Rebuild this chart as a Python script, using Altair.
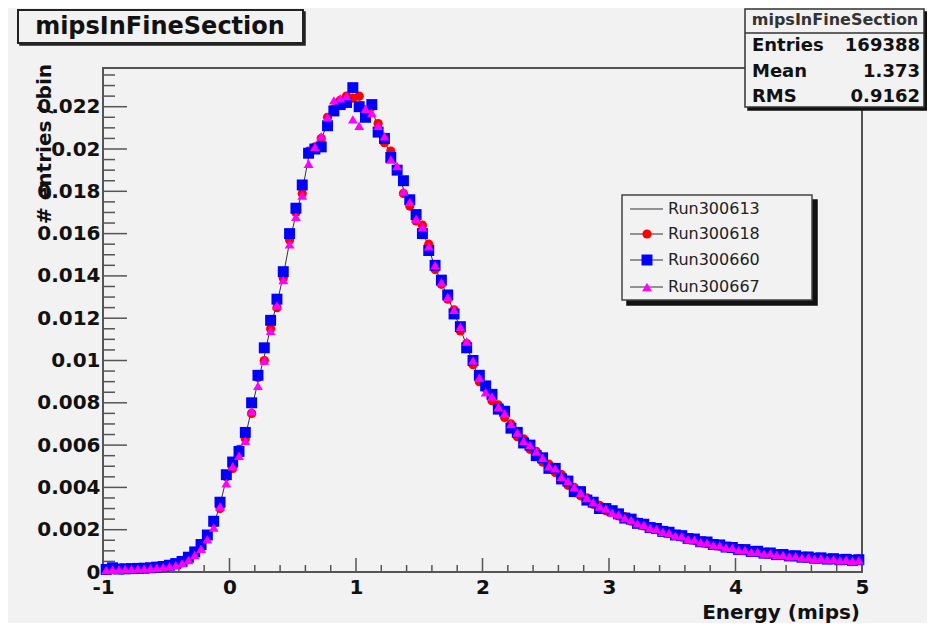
import altair as alt
import pandas as pd

# ---------------- data ----------------
bin_centers = [round(-0.975 + 0.05 * i, 3) for i in range(120)]

run300613 = [
    0.00010, 0.00012, 0.00013, 0.00014, 0.00015, 0.00016, 0.00017, 0.00019, 0.00021, 0.00024,
    0.00028, 0.00034, 0.00045, 0.00060, 0.00085, 0.00120, 0.00160, 0.00220, 0.00320, 0.00440,
    0.00510, 0.00560, 0.00640, 0.00770, 0.00900, 0.01020, 0.01160, 0.01270, 0.01400, 0.01560,
    0.01690, 0.01800, 0.01960, 0.02000, 0.02040, 0.02130, 0.02200, 0.02220, 0.02240, 0.02260,
    0.02230, 0.02200, 0.02190, 0.02100, 0.02040, 0.01970, 0.01910, 0.01810, 0.01740, 0.01680,
    0.01620, 0.01530, 0.01440, 0.01370, 0.01300, 0.01230, 0.01150, 0.01070, 0.00990, 0.00910,
    0.00860, 0.00820, 0.00780, 0.00740, 0.00690, 0.00650, 0.00620, 0.00590, 0.00560, 0.00530,
    0.00505, 0.00480, 0.00450, 0.00420, 0.00395, 0.00370, 0.00345, 0.00325, 0.00310, 0.00295,
    0.00285, 0.00270, 0.00258, 0.00245, 0.00232, 0.00222, 0.00212, 0.00203, 0.00194, 0.00185,
    0.00176, 0.00168, 0.00160, 0.00152, 0.00145, 0.00138, 0.00131, 0.00125, 0.00119, 0.00113,
    0.00108, 0.00104, 0.00099, 0.00095, 0.00091, 0.00087, 0.00083, 0.00080, 0.00077, 0.00074,
    0.00071, 0.00068, 0.00066, 0.00064, 0.00062, 0.00060, 0.00058, 0.00057, 0.00056, 0.00055,
]

run300618 = [
    0.00008, 0.00011, 0.00014, 0.00013, 0.00016, 0.00015, 0.00018, 0.00020, 0.00022, 0.00026,
    0.00030, 0.00036, 0.00043, 0.00062, 0.00088, 0.00115, 0.00170, 0.00230, 0.00300, 0.00450,
    0.00490, 0.00580, 0.00630, 0.00750, 0.00920, 0.01000, 0.01150, 0.01250, 0.01390, 0.01570,
    0.01700, 0.01790, 0.01990, 0.02010, 0.02050, 0.02150, 0.02190, 0.02230, 0.02250, 0.02240,
    0.02250, 0.02180, 0.02200, 0.02120, 0.02030, 0.01990, 0.01900, 0.01790, 0.01730, 0.01660,
    0.01640, 0.01550, 0.01430, 0.01360, 0.01290, 0.01240, 0.01140, 0.01080, 0.00980, 0.00900,
    0.00870, 0.00810, 0.00790, 0.00730, 0.00700, 0.00640, 0.00630, 0.00580, 0.00570, 0.00520,
    0.00510, 0.00470, 0.00460, 0.00410, 0.00400, 0.00360, 0.00350, 0.00320, 0.00315, 0.00290,
    0.00290, 0.00265, 0.00262, 0.00240, 0.00236, 0.00218, 0.00215, 0.00200, 0.00197, 0.00182,
    0.00178, 0.00165, 0.00163, 0.00150, 0.00147, 0.00135, 0.00133, 0.00122, 0.00121, 0.00110,
    0.00110, 0.00101, 0.00100, 0.00092, 0.00093, 0.00085, 0.00085, 0.00078, 0.00079, 0.00072,
    0.00073, 0.00066, 0.00068, 0.00062, 0.00063, 0.00059, 0.00060, 0.00055, 0.00057, 0.00062,
]

run300660 = [
    0.00012, 0.00020, 0.00014, 0.00015, 0.00016, 0.00017, 0.00018, 0.00020, 0.00023, 0.00026,
    0.00032, 0.00040, 0.00050, 0.00070, 0.00095, 0.00130, 0.00175, 0.00240, 0.00330, 0.00460,
    0.00520, 0.00570, 0.00660, 0.00800, 0.00930, 0.01060, 0.01190, 0.01290, 0.01420, 0.01600,
    0.01720, 0.01830, 0.01980, 0.02000, 0.02010, 0.02110, 0.02180, 0.02210, 0.02220, 0.02290,
    0.02200, 0.02150, 0.02210, 0.02080, 0.02050, 0.01960, 0.01900, 0.01850, 0.01760, 0.01690,
    0.01600, 0.01520, 0.01450, 0.01380, 0.01310, 0.01220, 0.01160, 0.01060, 0.01000, 0.00930,
    0.00880, 0.00840, 0.00770, 0.00760, 0.00680, 0.00660, 0.00610, 0.00600, 0.00550, 0.00540,
    0.00490, 0.00490, 0.00440, 0.00430, 0.00380, 0.00380, 0.00340, 0.00330, 0.00300, 0.00300,
    0.00290, 0.00275, 0.00255, 0.00250, 0.00230, 0.00226, 0.00210, 0.00206, 0.00192, 0.00188,
    0.00175, 0.00172, 0.00158, 0.00156, 0.00143, 0.00142, 0.00130, 0.00128, 0.00118, 0.00116,
    0.00106, 0.00106, 0.00097, 0.00098, 0.00089, 0.00090, 0.00082, 0.00083, 0.00076, 0.00077,
    0.00070, 0.00071, 0.00065, 0.00067, 0.00061, 0.00063, 0.00058, 0.00060, 0.00055, 0.00058,
]

run300667 = [
    0.00009, 0.00012, 0.00012, 0.00014, 0.00014, 0.00016, 0.00016, 0.00018, 0.00020, 0.00023,
    0.00027, 0.00032, 0.00042, 0.00057, 0.00080, 0.00110, 0.00155, 0.00210, 0.00310, 0.00420,
    0.00500, 0.00550, 0.00620, 0.00760, 0.00880, 0.01000, 0.01140, 0.01260, 0.01380, 0.01550,
    0.01680, 0.01780, 0.01930, 0.02010, 0.02060, 0.02150, 0.02230, 0.02240, 0.02250, 0.02140,
    0.02110, 0.02190, 0.02170, 0.02110, 0.02060, 0.01950, 0.01920, 0.01800, 0.01750, 0.01670,
    0.01630, 0.01540, 0.01450, 0.01370, 0.01300, 0.01240, 0.01160, 0.01090, 0.01000, 0.00920,
    0.00850, 0.00830, 0.00780, 0.00750, 0.00700, 0.00660, 0.00620, 0.00600, 0.00570, 0.00540,
    0.00500, 0.00490, 0.00450, 0.00430, 0.00400, 0.00375, 0.00350, 0.00330, 0.00310, 0.00300,
    0.00280, 0.00272, 0.00255, 0.00246, 0.00230, 0.00223, 0.00208, 0.00203, 0.00190, 0.00186,
    0.00172, 0.00169, 0.00155, 0.00153, 0.00141, 0.00139, 0.00127, 0.00126, 0.00116, 0.00114,
    0.00104, 0.00104, 0.00095, 0.00096, 0.00087, 0.00088, 0.00080, 0.00081, 0.00074, 0.00075,
    0.00068, 0.00069, 0.00063, 0.00065, 0.00059, 0.00061, 0.00056, 0.00058, 0.00053, 0.00056,
]

series_names = ["Run300613", "Run300618", "Run300660", "Run300667"]
x_tick_labels = [-1, 0, 1, 2, 3, 4, 5]
y_tick_labels = [0, 0.002, 0.004, 0.006, 0.008, 0.010, 0.012, 0.014, 0.016, 0.018, 0.020, 0.022]
stats_names = ["Entries", "Mean", "RMS"]
stats_values = ["169388", "1.373", "0.9162"]
hist_title = "mipsInFineSection"
x_title = "Energy (mips)"
y_title = "# entries / bin"

# ---------------- layout ----------------
W, H = 759, 504
FONT = "DejaVu Sans"
BG = "#f2f2f2"
FRAME = "#555555"

xs = alt.Scale(domain=[-1.0, 5.0], nice=False, zero=False)
ys = alt.Scale(domain=[0, 0.02383], nice=False, zero=False)

x_axis = alt.Axis(values=x_tick_labels, title=None, ticks=False, domain=False,
                  labelExpr="datum.value < 0 ? '-' + (-datum.value) : '' + datum.value",
                  grid=False, labelFont=FONT, labelFontSize=20, labelFontWeight="bold",
                  labelColor="#111", labelPadding=5, labelFlush=False, labelOverlap=False)
y_axis = alt.Axis(values=y_tick_labels, format="~g", title=None, ticks=False, domain=False,
                  grid=False, labelFont=FONT, labelFontSize=20, labelFontWeight="bold",
                  labelColor="#111", labelPadding=3, labelOverlap=False)


def X(field):
    return alt.X(field, type="quantitative", scale=xs, axis=x_axis)


def Y(field):
    return alt.Y(field, type="quantitative", scale=ys, axis=y_axis)


def series_df(vals):
    return pd.DataFrame({"energy": bin_centers, "value": vals})


one = pd.DataFrame({"k": [0]})

# inward tick marks
y_major = pd.DataFrame({"t": y_tick_labels})
y_minor = pd.DataFrame({"t": [i * 0.0005 for i in range(48) if i % 4 != 0]})
x_major = pd.DataFrame({"t": x_tick_labels})
x_minor = pd.DataFrame({"t": [-1 + 0.2 * i for i in range(31) if i % 5 != 0]})

ticks = [
    alt.Chart(y_major).mark_rule(color=FRAME, strokeWidth=1.5).encode(
        y=Y("t"), x=alt.value(0), x2=alt.value(24)),
    alt.Chart(y_minor).mark_rule(color=FRAME, strokeWidth=1.5).encode(
        y=Y("t"), x=alt.value(0), x2=alt.value(12)),
    alt.Chart(x_major).mark_rule(color=FRAME, strokeWidth=1.5).encode(
        x=X("t"), y=alt.value(H), y2=alt.value(H - 14)),
    alt.Chart(x_minor).mark_rule(color=FRAME, strokeWidth=1.5).encode(
        x=X("t"), y=alt.value(H), y2=alt.value(H - 7)),
]

# data layers
SZ_C, SZ_S, SZ_T = 85, 120, 95
line613 = alt.Chart(series_df(run300613)).mark_line(color="#333", strokeWidth=1.0).encode(
    x=X("energy"), y=Y("value"))
pts618 = alt.Chart(series_df(run300618)).mark_point(
    filled=True, shape="circle", size=SZ_C, color="#ff0000", opacity=1).encode(
    x=X("energy"), y=Y("value"))
pts660 = alt.Chart(series_df(run300660)).mark_point(
    filled=True, shape="square", size=SZ_S, color="#0000ff", opacity=1).encode(
    x=X("energy"), y=Y("value"))
pts667 = alt.Chart(series_df(run300667)).mark_point(
    filled=True, shape="triangle-up", size=SZ_T, color="#ff00ff", opacity=1).encode(
    x=X("energy"), y=Y("value"))


def box(x1, y1, x2, y2, fill=BG, stroke="#333", sw=1.5):
    return alt.Chart(one).mark_rect(fill=fill, stroke=stroke, strokeWidth=sw).encode(
        x=alt.value(x1), x2=alt.value(x2), y=alt.value(y1), y2=alt.value(y2))


def label(txt, x, y, size, weight="normal", align="left", angle=0, color="#111"):
    return alt.Chart(one).mark_text(
        font=FONT, fontSize=size, fontWeight=weight, align=align, baseline="middle",
        angle=angle, color=color).encode(
        x=alt.value(x), y=alt.value(y), text=alt.value(txt))


decor = []
# histogram title box
decor += [box(-83, -56, 202, -23, fill="#222", stroke="#222"),
          box(-85, -58, 200, -25, stroke="#222", sw=2),
          label(hist_title, 57, -41, 24, "bold", "center")]
# stats box
decor += [box(645, -56, 824, 42, fill="#111", stroke="#111"),
          box(642, -59, 821, 39, stroke="#333", sw=1.5),
          alt.Chart(one).mark_rule(color="#333", strokeWidth=1.5).encode(
              x=alt.value(642), x2=alt.value(821), y=alt.value(-35)),
          label(hist_title, 732, -48, 16, "bold", "center", color="#333")]
for i, (nm, vl) in enumerate(zip(stats_names, stats_values)):
    yy = -22 + i * 25.5
    decor += [label(nm, 649, yy, 18, "bold"), label(vl, 817, yy, 18, "bold", "right")]

# legend
decor += [box(524, 132, 714, 237, fill="#111", stroke="#111"),
          box(519, 127, 709, 232, stroke="#444", sw=1.5)]
leg_y = [141, 166, 192, 219]
leg_style = [(None, None, 0), ("circle", "#ff0000", SZ_C), ("square", "#0000ff", SZ_S),
             ("triangle-up", "#ff00ff", SZ_T)]
for nm, yy, (shp, col, sz) in zip(series_names, leg_y, leg_style):
    decor.append(alt.Chart(one).mark_rule(color="#333", strokeWidth=1.0).encode(
        x=alt.value(527), x2=alt.value(560), y=alt.value(yy)))
    if shp:
        decor.append(alt.Chart(one).mark_point(filled=True, shape=shp, size=sz, color=col,
                                                opacity=1).encode(
            x=alt.value(544), y=alt.value(yy)))
    decor.append(label(nm, 565, yy, 16, "normal", color="#222"))

# axis titles
decor += [label(x_title, 757, 545, 20, "bold", "right"),
          label(y_title, -58, -4, 20, "bold", "right", angle=270)]

chart = alt.layer(*ticks, line613, pts618, pts660, pts667, *decor).properties(
    width=W, height=H,
    autosize=alt.AutoSizeParams(type="none"),
    padding={"left": 95, "top": 60, "right": 65, "bottom": 51},
    background=BG,
).configure_view(stroke=FRAME, strokeWidth=2, fill=BG)

chart.save("out.html", embed_options={"renderer": "svg", "actions": False})
